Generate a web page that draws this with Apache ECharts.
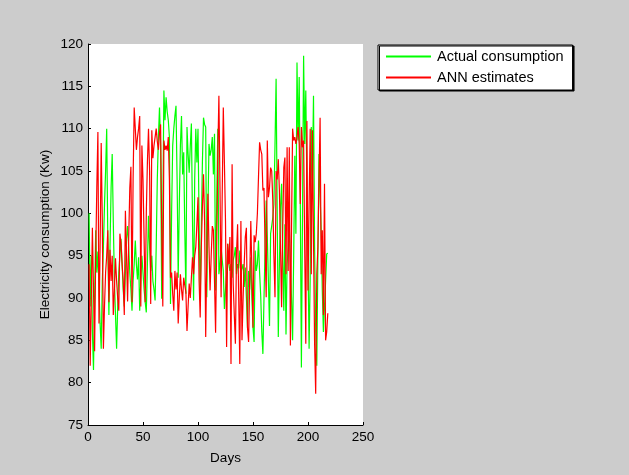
<!DOCTYPE html>
<html>
<head>
<meta charset="utf-8">
<script src="https://cdn.jsdelivr.net/npm/echarts@6/dist/echarts.min.js"></script>
<style>
  html, body { margin: 0; padding: 0; background: #cccccc; }
  #chart { width: 629px; height: 475px; }
</style>
</head>
<body>
<div id="chart"></div>
<script>
// Daily electricity consumption (Kw): measured values and ANN estimates, days 1..218
const actual = [
  100, 89, 95, 86, 81.5, 90, 98, 93, 95.5, 91, 87, 84, 92, 96, 101, 105, 110, 97, 88, 96,
  103, 107, 99, 92, 88, 84, 89, 93, 95, 97, 94, 91, 89, 93, 97, 98.5, 96, 93, 91, 88.5,
  92, 94, 96.8, 94, 92.2, 94.8, 88.5, 92, 95, 93, 91, 89.5, 88.3, 94, 99.7, 96, 93.2, 95, 92, 91,
  89.7, 96, 104, 109, 112.5, 108, 89.9, 100, 114.5, 111, 113.7, 112, 111, 109, 89.3, 100, 108, 110, 111.5, 112.7,
  104, 92.4, 101, 108, 111.5, 104.6, 107.2, 98, 90.5, 110.2, 107, 104.8, 108, 110.6, 99, 89.7, 104, 110, 106, 110,
  99, 89.7, 98, 106, 111.3, 110.5, 110.2, 90.1, 100, 108.2, 106.8, 107.5, 109, 104.6, 109.4, 90.9, 101, 110, 92.8, 94,
  96, 94.5, 93.2, 88.7, 91, 92.8, 96.4, 94, 93.2, 94, 92.4, 94.5, 95, 96, 92.8, 94, 93.5, 95.6, 93, 92.8,
  94, 91.3, 93.6, 90, 86.5, 93.2, 91, 94.8, 90, 86.5, 84.8, 95.6, 93.2, 94, 96.8, 93, 90.3, 86, 83.4, 90,
  96, 101.5, 97.2, 92, 86.7, 97.6, 98.5, 99.5, 101.1, 108, 115.9, 100, 85.4, 94, 100.7, 103.5, 95, 88.5, 98.7, 85.7,
  94, 96, 98.3, 94.4, 90, 85, 95, 106.8, 97.6, 117.8, 108.6, 116.1, 101.1, 81.8, 100, 118.6, 108.2, 114.5, 103, 94.4,
  84, 92.4, 110.2, 104, 113.9, 96, 86.1, 82, 95, 107, 102, 98, 90.9, 86, 85.8, 92, 95.2, 95.3
];

const estimated = [
  94, 82, 90, 98.3, 91, 83.7, 95, 103, 109.6, 87, 96, 108.3, 99, 84, 89, 93, 95, 98, 89.5, 95.7,
  92, 95, 88, 91, 94.7, 92, 90, 88.5, 97.6, 96.5, 94, 92, 88, 100.3, 95, 89.6, 97, 103, 105.5, 89.5,
  104, 112.5, 110, 107.5, 109, 110, 111.5, 89, 108, 104, 97, 89.5, 100, 106, 110, 105, 89.3, 109.8, 106.5, 108,
  109, 110, 108.5, 107.5, 109.5, 110.5, 98, 89, 108.6, 107.5, 108, 107.4, 109, 104, 92.4, 93, 90.5, 88.5, 93.2, 91,
  93, 87, 90, 92.8, 91, 89.7, 92.4, 91.5, 90.7, 86.1, 89, 91.7, 90, 92.4, 94.8, 92.8, 95, 96, 98.7, 101.9,
  92, 87.7, 96, 100.7, 104.6, 99, 85.4, 95, 102.3, 96, 90.9, 95, 98.5, 98, 92, 85.9, 96, 107, 113.9, 103,
  90.1, 102, 112.5, 106, 99.1, 84.2, 96.4, 94, 97.2, 82.2, 105.8, 91.7, 88, 84.6, 95.2, 98.7, 90, 82.2, 99.1, 85,
  90, 94, 97.2, 98.3, 86.5, 84.8, 92, 99.1, 93.2, 86.5, 97.4, 96.6, 97.6, 100, 104.3, 108.4, 107.5, 107, 102.7, 103,
  96, 90.1, 108.6, 101.9, 103, 105.4, 105, 101.5, 95, 90.1, 105, 104, 106.4, 102.7, 96, 88.9, 98, 105.4, 106.6, 92.8,
  107.8, 93.2, 107.8, 84.4, 98, 110, 108.6, 109, 108.2, 109, 110.2, 108.2, 101.1, 110.2, 107.8, 108.6, 96, 84.6, 110.9, 90.9,
  101, 110, 92.8, 109.8, 97, 84.6, 78.7, 92.8, 96, 104, 111.3, 92.8, 98, 88, 103.5, 85, 86, 88.2
];

const seriesNames = ['Actual consumption', 'ANN estimates'];
const xTicks = { min: 0, max: 250, step: 50 };
const yTicks = { min: 75, max: 120, step: 5 };

const toPairs = arr => arr.map((v, i) => [i + 1, v]);

const FONT = '"Liberation Sans", Arial, sans-serif';
const chart = echarts.init(document.getElementById('chart'), null, { renderer: 'canvas' });

chart.setOption({
  backgroundColor: '#cccccc',
  animation: false,
  textStyle: { fontFamily: FONT, color: '#000' },
  grid: {
    left: 88, top: 44, right: 266, bottom: 50,
    show: true, backgroundColor: '#ffffff', borderWidth: 0
  },
  legend: {
    orient: 'vertical',
    left: 378, top: 45,
    padding: [4, 9, 5, 8],
    itemGap: 6,
    itemWidth: 45, itemHeight: 2,
    icon: 'rect',
    backgroundColor: '#ffffff',
    borderColor: '#000', borderWidth: 1,
    shadowColor: '#000', shadowOffsetX: 1.5, shadowOffsetY: 1, shadowBlur: 0,
    textStyle: { fontFamily: FONT, fontSize: 14.5, color: '#000', padding: [0, 0, 0, 1] },
    data: seriesNames
  },
  xAxis: {
    type: 'value',
    min: xTicks.min, max: xTicks.max, interval: xTicks.step,
    name: 'Days', nameLocation: 'middle', nameGap: 26,
    nameTextStyle: { fontFamily: FONT, fontSize: 13.5, color: '#000' },
    axisLine: { show: true, onZero: false, lineStyle: { color: '#000', width: 1 } },
    axisTick: { show: true, inside: true, length: 3, lineStyle: { color: '#000' } },
    axisLabel: { fontFamily: FONT, fontSize: 13.5, color: '#000', margin: 5 },
    splitLine: { show: false }
  },
  yAxis: {
    type: 'value',
    min: yTicks.min, max: yTicks.max, interval: yTicks.step,
    name: 'Electricity consumption (Kw)', nameLocation: 'middle', nameGap: 36,
    nameTextStyle: { fontFamily: FONT, fontSize: 13.5, color: '#000' },
    axisLine: { show: true, onZero: false, lineStyle: { color: '#000', width: 1 } },
    axisTick: { show: true, inside: true, length: 3, lineStyle: { color: '#000' } },
    axisLabel: { fontFamily: FONT, fontSize: 13.5, color: '#000', margin: 5 },
    splitLine: { show: false }
  },
  series: [
    {
      name: seriesNames[0], type: 'line', data: toPairs(actual),
      showSymbol: false, symbol: 'none',
      lineStyle: { color: '#00ff00', width: 1.2 }, itemStyle: { color: '#00ff00' }
    },
    {
      name: seriesNames[1], type: 'line', data: toPairs(estimated),
      showSymbol: false, symbol: 'none',
      lineStyle: { color: '#ff0000', width: 1.2 }, itemStyle: { color: '#ff0000' }
    }
  ]
});
</script>
</body>
</html>
